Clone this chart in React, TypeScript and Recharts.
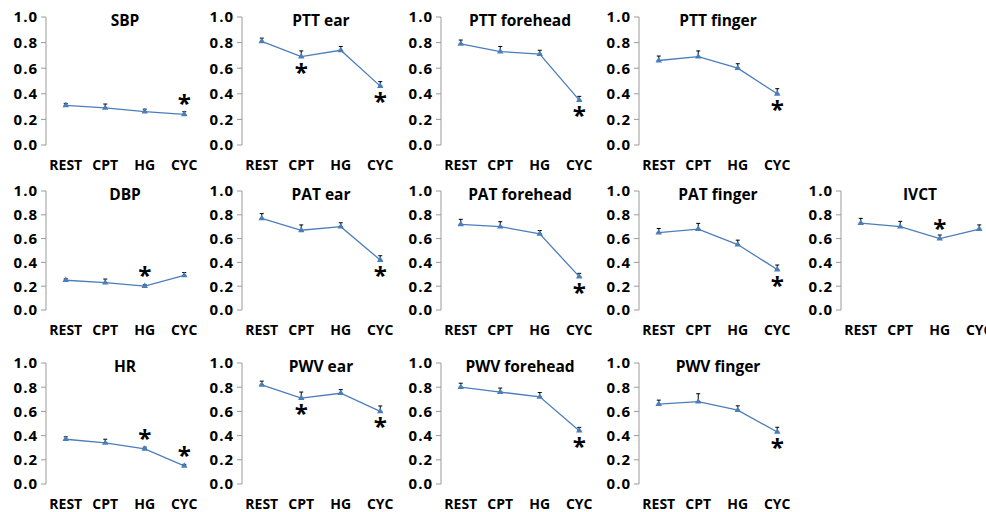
import React from "react";
import { LineChart, Line, XAxis, YAxis, ErrorBar, Symbols } from "recharts";

// Stages shared by every panel
const stages = ["REST", "CPT", "HG", "CYC"];
const yTicks = [0, 0.2, 0.4, 0.6, 0.8, 1.0];

// Mean values, upper error (SE) and significance marks per stage
const sbp = [0.31, 0.29, 0.26, 0.24];
const sbpErr = [0.015, 0.03, 0.02, 0.02];
const sbpSig = ["", "", "", "up"];

const pttEar = [0.81, 0.69, 0.74, 0.46];
const pttEarErr = [0.025, 0.045, 0.03, 0.035];
const pttEarSig = ["", "down", "", "down"];

const pttForehead = [0.79, 0.73, 0.71, 0.35];
const pttForeheadErr = [0.03, 0.04, 0.03, 0.03];
const pttForeheadSig = ["", "", "", "down"];

const pttFinger = [0.66, 0.69, 0.6, 0.4];
const pttFingerErr = [0.035, 0.045, 0.035, 0.04];
const pttFingerSig = ["", "", "", "down"];

const dbp = [0.25, 0.23, 0.2, 0.29];
const dbpErr = [0.012, 0.03, 0.012, 0.025];
const dbpSig = ["", "", "up", ""];

const patEar = [0.77, 0.67, 0.7, 0.42];
const patEarErr = [0.04, 0.045, 0.033, 0.036];
const patEarSig = ["", "", "", "down"];

const patForehead = [0.72, 0.7, 0.64, 0.28];
const patForeheadErr = [0.042, 0.042, 0.028, 0.028];
const patForeheadSig = ["", "", "", "down"];

const patFinger = [0.65, 0.68, 0.55, 0.34];
const patFingerErr = [0.035, 0.048, 0.037, 0.038];
const patFingerSig = ["", "", "", "down"];

const ivct = [0.73, 0.7, 0.6, 0.68];
const ivctErr = [0.04, 0.045, 0.03, 0.035];
const ivctSig = ["", "", "up", ""];

const hr = [0.37, 0.34, 0.29, 0.15];
const hrErr = [0.02, 0.03, 0.015, 0.012];
const hrSig = ["", "", "up", "up"];

const pwvEar = [0.82, 0.71, 0.75, 0.6];
const pwvEarErr = [0.03, 0.05, 0.03, 0.045];
const pwvEarSig = ["", "down", "", "down"];

const pwvForehead = [0.8, 0.76, 0.72, 0.44];
const pwvForeheadErr = [0.033, 0.033, 0.036, 0.028];
const pwvForeheadSig = ["", "", "", "down"];

const pwvFinger = [0.66, 0.68, 0.61, 0.43];
const pwvFingerErr = [0.033, 0.066, 0.036, 0.039];
const pwvFingerSig = ["", "", "", "down"];

// Grid layout: y-axis x-position per column, plot top and height per row
const colX = [46, 242, 441, 639, 841];
const rowTop = [17, 191, 363];
const rowH = [128, 119, 121];
const PLOT_W = 158;
const Y_AXIS_W = 46;
const TOP_PAD = 14;
const X_AXIS_H = 28;
const RIGHT_PAD = 8;

const BLUE = "#4A7EBB";
const AXIS = "#9a9a9a";
const FONT = "'Open Sans', Arial, sans-serif";

type Panel = {
  title: string;
  row: number;
  col: number;
  values: number[];
  errs: number[];
  sig: string[];
};

const panels: Panel[] = [
  { title: "SBP", row: 0, col: 0, values: sbp, errs: sbpErr, sig: sbpSig },
  { title: "PTT ear", row: 0, col: 1, values: pttEar, errs: pttEarErr, sig: pttEarSig },
  { title: "PTT forehead", row: 0, col: 2, values: pttForehead, errs: pttForeheadErr, sig: pttForeheadSig },
  { title: "PTT finger", row: 0, col: 3, values: pttFinger, errs: pttFingerErr, sig: pttFingerSig },
  { title: "DBP", row: 1, col: 0, values: dbp, errs: dbpErr, sig: dbpSig },
  { title: "PAT ear", row: 1, col: 1, values: patEar, errs: patEarErr, sig: patEarSig },
  { title: "PAT forehead", row: 1, col: 2, values: patForehead, errs: patForeheadErr, sig: patForeheadSig },
  { title: "PAT finger", row: 1, col: 3, values: patFinger, errs: patFingerErr, sig: patFingerSig },
  { title: "IVCT", row: 1, col: 4, values: ivct, errs: ivctErr, sig: ivctSig },
  { title: "HR", row: 2, col: 0, values: hr, errs: hrErr, sig: hrSig },
  { title: "PWV ear", row: 2, col: 1, values: pwvEar, errs: pwvEarErr, sig: pwvEarSig },
  { title: "PWV forehead", row: 2, col: 2, values: pwvForehead, errs: pwvForeheadErr, sig: pwvForeheadSig },
  { title: "PWV finger", row: 2, col: 3, values: pwvFinger, errs: pwvFingerErr, sig: pwvFingerSig },
];

const TriangleDot = (props: any) => {
  const { cx, cy, index } = props;
  if (cx == null || cy == null) return <g key={`d-${index}`} />;
  return <Symbols key={`d-${index}`} cx={cx} cy={cy} type="triangle" size={18} fill={BLUE} stroke="none" />;
};

// Significance asterisk above or below the stage mean
const makeStar = (sig: string[]) => (props: any) => {
  const { x, y, index } = props;
  const s = sig[index];
  if (!s || x == null || y == null) return <g key={`s-${index}`} />;
  const base = s === "up" ? y - 2 : y + 24;
  return (
    <text
      key={`s-${index}`}
      x={x}
      y={base}
      textAnchor="middle"
      fontFamily={FONT}
      fontWeight={700}
      fontSize={24}
      fill="#000"
    >
      *
    </text>
  );
};

const PanelChart = ({ p }: { p: Panel }) => {
  const data = stages.map((stage, i) => ({
    stage,
    value: p.values[i],
    err: [0, p.errs[i]],
  }));
  const h = TOP_PAD + rowH[p.row] + X_AXIS_H;
  const w = Y_AXIS_W + PLOT_W + RIGHT_PAD;
  const left = colX[p.col] - Y_AXIS_W;
  const top = rowTop[p.row] - TOP_PAD;
  return (
    <>
      <div style={{ position: "absolute", left, top }}>
        <LineChart
          width={w}
          height={h}
          data={data}
          margin={{ top: TOP_PAD, right: RIGHT_PAD, bottom: 0, left: 0 }}
        >
          {/* axis line with tick marks on the category boundaries */}
          <XAxis
            xAxisId="frame"
            type="number"
            domain={[0, 4]}
            ticks={[0, 1, 2, 3, 4]}
            allowDataOverflow
            tick={false}
            tickSize={5}
            height={0}
            stroke={AXIS}
          />
          {/* stage names centred in each category */}
          <XAxis
            xAxisId="stage"
            dataKey="stage"
            scale="band"
            interval={0}
            axisLine={false}
            tickLine={false}
            tickSize={0}
            tickMargin={15}
            height={X_AXIS_H}
            tick={{ fontFamily: FONT, fontWeight: 700, fontSize: 14, fill: "#000" }}
          />
          <YAxis
            domain={[0, 1]}
            ticks={yTicks}
            width={Y_AXIS_W}
            tickSize={5}
            tickMargin={3}
            stroke={AXIS}
            tickFormatter={(v: number) => v.toFixed(1)}
            tick={{ fontFamily: FONT, fontWeight: 700, fontSize: 15, fill: "#000", letterSpacing: 1 }}
          />
          <Line
            xAxisId="stage"
            dataKey="value"
            stroke={BLUE}
            strokeWidth={1.3}
            dot={TriangleDot}
            activeDot={false}
            isAnimationActive={false}
            label={makeStar(p.sig)}
          >
            <ErrorBar dataKey="err" direction="y" width={2} strokeWidth={1} stroke="#000" />
          </Line>
        </LineChart>
      </div>
      <div
        style={{
          position: "absolute",
          left: colX[p.col],
          width: PLOT_W,
          top: rowTop[p.row] - 8,
          lineHeight: "22px",
          textAlign: "center",
          fontFamily: FONT,
          fontWeight: 700,
          fontSize: 15.5,
          color: "#000",
          whiteSpace: "nowrap",
        }}
      >
        {p.title}
      </div>
    </>
  );
};

export default function App() {
  return (
    <div
      style={{
        position: "fixed",
        left: 0,
        top: 0,
        width: 986,
        height: 512,
        overflow: "hidden",
        background: "#fff",
      }}
    >
      {panels.map((p) => (
        <PanelChart key={p.title} p={p} />
      ))}
    </div>
  );
}
